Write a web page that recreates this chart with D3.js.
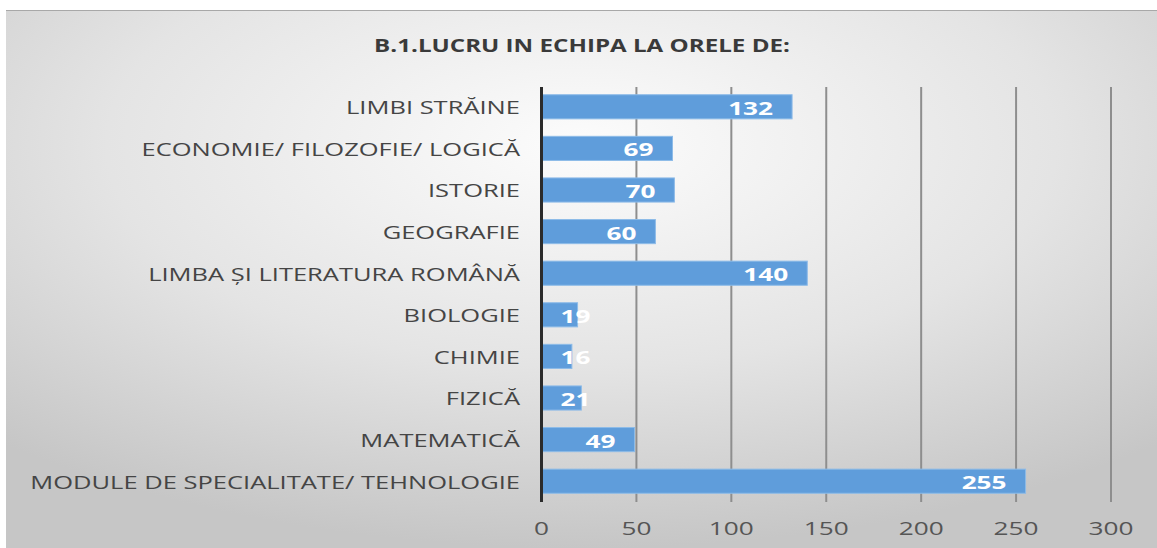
<!DOCTYPE html>
<html lang="ro">
<head>
  <meta charset="UTF-8">
  <title>B.1.Lucru in echipa la orele de</title>
  <script src="https://d3js.org/d3.v7.min.js"></script>
  <style>
    body, html {
      margin: 0;
      padding: 0;
      background-color: #fff;
      overflow: hidden;
    }
    text {
      font-family: 'Open Sans', 'Noto Sans', sans-serif;
    }
  </style>
</head>
<body>
  <svg id="chart"></svg>

  <script>
    // values
    const categories = [
      "LIMBI STRĂINE",
      "ECONOMIE/ FILOZOFIE/ LOGICĂ",
      "ISTORIE",
      "GEOGRAFIE",
      "LIMBA ȘI LITERATURA ROMÂNĂ",
      "BIOLOGIE",
      "CHIMIE",
      "FIZICĂ",
      "MATEMATICĂ",
      "MODULE DE SPECIALITATE/ TEHNOLOGIE"
    ];
    const values = [132, 69, 70, 60, 140, 19, 16, 21, 49, 255];
    const xTicks = [0, 50, 100, 150, 200, 250, 300];
    const title = "B.1.LUCRU IN ECHIPA LA ORELE DE:";

    const width = 1157;
    const height = 548;

    const svg = d3.select("#chart")
      .attr("width", width)
      .attr("height", height);

    // background panel with a soft radial shade
    const defs = svg.append("defs");
    const grad = defs.append("radialGradient")
      .attr("id", "bg")
      .attr("cx", "50%").attr("cy", "25%").attr("r", "75%");
    grad.append("stop").attr("offset", "0%").attr("stop-color", "#fcfcfc");
    grad.append("stop").attr("offset", "55%").attr("stop-color", "#e4e4e4");
    grad.append("stop").attr("offset", "100%").attr("stop-color", "#c6c6c6");

    svg.append("rect")
      .attr("x", 6).attr("y", 10)
      .attr("width", width - 6).attr("height", height - 10)
      .attr("fill", "url(#bg)");
    svg.append("line")
      .attr("x1", 6).attr("x2", width)
      .attr("y1", 10.5).attr("y2", 10.5)
      .attr("stroke", "#a8a8a8").attr("stroke-width", 1);

    const x = d3.scaleLinear()
      .domain([0, 300])
      .range([541.5, 1111]);

    const y = d3.scaleBand()
      .domain(categories)
      .range([86, 502])
      .paddingInner(0.42)
      .paddingOuter(0.21);

    // helper: stretch text horizontally so it matches a target width
    function stretchTo(sel, refWidth, refNode) {
      const w = refNode.getComputedTextLength();
      const sx = refWidth / w;
      sel.each(function() {
        const t = d3.select(this);
        t.attr("transform", `translate(${t.attr("data-x")},${t.attr("data-y")}) scale(${sx},1)`);
      });
    }

    // gridlines
    svg.append("g")
      .selectAll("line")
      .data(xTicks.filter(d => d > 0))
      .enter().append("line")
      .attr("x1", d => x(d)).attr("x2", d => x(d))
      .attr("y1", 87).attr("y2", 502)
      .attr("stroke", "#8e8e8e")
      .attr("stroke-width", 2);

    // bars
    svg.append("g")
      .selectAll("rect")
      .data(values)
      .enter().append("rect")
      .attr("x", x(0))
      .attr("y", (d, i) => y(categories[i]))
      .attr("width", d => x(d) - x(0))
      .attr("height", y.bandwidth())
      .attr("fill", "#5f9ddb")
      .attr("stroke", "#8dbbe8")
      .attr("stroke-width", 1);

    // vertical axis line
    svg.append("line")
      .attr("x1", x(0)).attr("x2", x(0))
      .attr("y1", 87).attr("y2", 502)
      .attr("stroke", "#2b2b2b")
      .attr("stroke-width", 3);

    // category labels
    const catLabels = svg.append("g")
      .selectAll("text")
      .data(categories)
      .enter().append("text")
      .attr("data-x", 520)
      .attr("data-y", d => y(d) + y.bandwidth() / 2)
      .attr("text-anchor", "end")
      .attr("dominant-baseline", "central")
      .style("font-size", "18px")
      .attr("fill", "#454545")
      .text(d => d);
    stretchTo(catLabels, 490, catLabels.nodes()[categories.length - 1]);

    // value labels
    const valLabels = svg.append("g")
      .selectAll("text")
      .data(values)
      .enter().append("text")
      .attr("data-x", d => Math.max(x(d) - 19, x(0) + 49))
      .attr("data-y", (d, i) => y(categories[i]) + y.bandwidth() / 2 + 1)
      .attr("text-anchor", "end")
      .attr("dominant-baseline", "central")
      .style("font-size", "17px")
      .style("font-weight", "bold")
      .attr("fill", "#ffffff")
      .text(d => d);
    stretchTo(valLabels, 45, valLabels.nodes()[values.length - 1]);

    // x tick labels
    const tickLabels = svg.append("g")
      .selectAll("text")
      .data(xTicks)
      .enter().append("text")
      .attr("data-x", d => x(d))
      .attr("data-y", 528)
      .attr("text-anchor", "middle")
      .attr("dominant-baseline", "central")
      .style("font-size", "18px")
      .attr("fill", "#555555")
      .text(d => d);
    stretchTo(tickLabels, 45, tickLabels.nodes()[xTicks.length - 1]);

    // title
    const titleText = svg.append("text")
      .attr("data-x", 582)
      .attr("data-y", 45)
      .attr("text-anchor", "middle")
      .attr("dominant-baseline", "central")
      .style("font-size", "17px")
      .style("font-weight", "bold")
      .attr("fill", "#3a3a3a")
      .text(title);
    stretchTo(titleText, 416, titleText.node());
  </script>
</body>
</html>
